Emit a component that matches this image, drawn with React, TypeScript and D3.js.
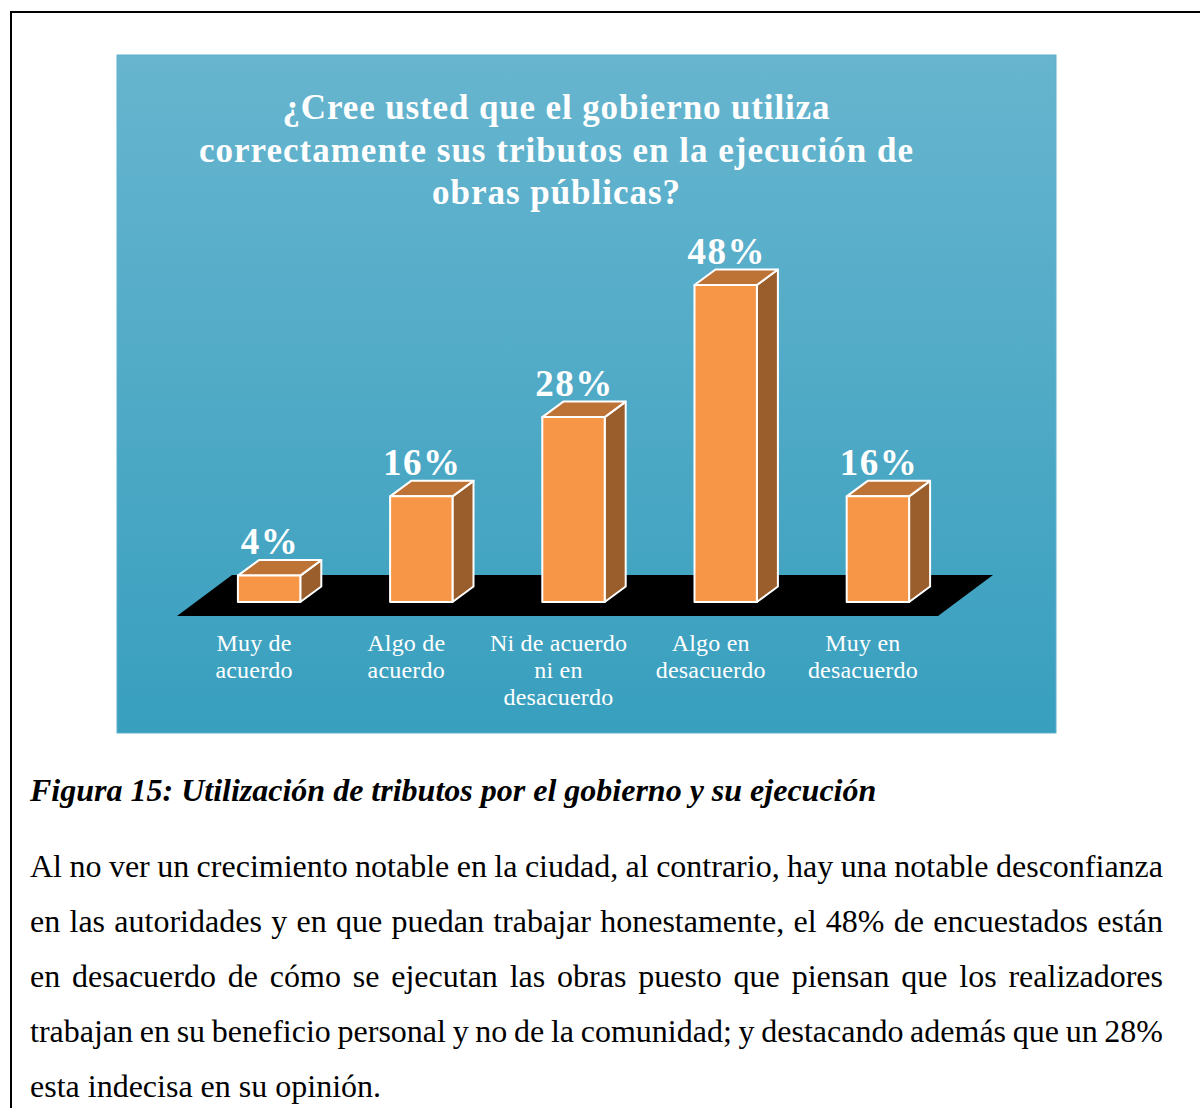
import React, { useMemo } from "react";
import * as d3 from "d3";

const categories = [
  "Muy de acuerdo",
  "Algo de acuerdo",
  "Ni de acuerdo ni en desacuerdo",
  "Algo en desacuerdo",
  "Muy en desacuerdo",
];
const categoryLines = [
  ["Muy de", "acuerdo"],
  ["Algo de", "acuerdo"],
  ["Ni de acuerdo", "ni en", "desacuerdo"],
  ["Algo en", "desacuerdo"],
  ["Muy en", "desacuerdo"],
];
const values = [4, 16, 28, 48, 16];
const valueLabels = ["4%", "16%", "28%", "48%", "16%"];
const titleLines = [
  "¿Cree usted que el gobierno utiliza",
  "correctamente sus tributos en la ejecución de",
  "obras públicas?",
];
const titleWidths = [547, 714, 248];
const caption = "Figura 15: Utilización de tributos por el gobierno y su ejecución";
const paragraphLines = [
  "Al no ver un crecimiento notable en la ciudad, al contrario, hay una notable desconfianza",
  "en las autoridades y en que puedan trabajar honestamente, el 48% de encuestados están",
  "en desacuerdo de cómo se ejecutan las obras puesto que piensan que los realizadores",
  "trabajan en su beneficio personal y no de la comunidad; y destacando además que un 28%",
  "esta indecisa en su opinión.",
];

const W = 1200;
const H = 1108;
const SERIF = "'Liberation Serif', 'Times New Roman', serif";
const PARA_SIZE = 32;
const PARA_X = 30;
const PARA_W = 1133;

export default function App() {
  const x = d3
    .scaleBand<string>()
    .domain(categories)
    .range([193, 954])
    .paddingInner(0.59)
    .paddingOuter(0.295);
  const y = d3.scaleLinear().domain([0, 48]).range([602, 285]);
  const bw = x.bandwidth();
  const dx = 21;
  const dy = -15.5;

  const wordSpacings = useMemo(() => {
    const c = document.createElement("canvas");
    const ctx = c.getContext("2d")!;
    ctx.font = `${PARA_SIZE}px 'Liberation Serif'`;
    return paragraphLines.map((l, i) => {
      if (i === paragraphLines.length - 1) return 0;
      const w = ctx.measureText(l).width;
      const spaces = (l.match(/ /g) || []).length;
      return (PARA_W - w) / spaces;
    });
  }, []);

  const [r0, r1] = x.range();
  const floorY0 = 575;
  const floorY1 = 616;
  const floor = [
    [r0 - 16, floorY1],
    [r0 - 16 + 55, floorY0],
    [r1 - 16 + 55, floorY0],
    [r1 - 16, floorY1],
  ];

  return (
    <svg
      width={W}
      height={H}
      style={{ position: "absolute", left: 0, top: 0, display: "block" }}
      fontFamily={SERIF}
    >
      <defs>
        <linearGradient id="bg" x1="0" y1="0" x2="0" y2="1">
          <stop offset="0" stopColor="#67b5cf" />
          <stop offset="1" stopColor="#389fbe" />
        </linearGradient>
      </defs>
      <rect width={W} height={H} fill="#ffffff" />
      <rect x={11} y={12} width={1200} height={1200} fill="none" stroke="#000" strokeWidth={2} />

      <rect x={117} y={55} width={939} height={678} fill="url(#bg)" stroke="#5fb0cc" strokeWidth={1} />

      {titleLines.map((t, i) => (
        <text
          key={t}
          x={556}
          y={119 + i * 42.5}
          textAnchor="middle"
          fill="#fff"
          fontWeight="bold"
          fontSize={35}
          textLength={titleWidths[i]}
          lengthAdjust="spacing"
        >
          {t}
        </text>
      ))}

      <polygon points={floor.map((p) => p.join(",")).join(" ")} fill="#000" />

      {categories.map((c, i) => {
        const x0 = x(c)!;
        const yt = y(values[i]);
        const yb = y(0);
        return (
          <g key={c} stroke="#fff" strokeWidth={2} strokeLinejoin="round">
            <polygon
              points={`${x0 + bw},${yb} ${x0 + bw + dx},${yb + dy} ${x0 + bw + dx},${yt + dy} ${x0 + bw},${yt}`}
              fill="#9a5e2c"
            />
            <polygon
              points={`${x0},${yt} ${x0 + dx},${yt + dy} ${x0 + bw + dx},${yt + dy} ${x0 + bw},${yt}`}
              fill="#bd7236"
            />
            <rect x={x0} y={yt} width={bw} height={yb - yt} fill="#f79646" />
          </g>
        );
      })}

      {categories.map((c, i) => (
        <text
          key={"v" + c}
          x={x(c)! + bw / 2 + 1}
          y={y(values[i]) + dy - 6}
          textAnchor="middle"
          fill="#fff"
          fontWeight="bold"
          fontSize={37}
          letterSpacing={1.5}
        >
          {valueLabels[i]}
        </text>
      ))}

      {categories.map((c, i) => (
        <text
          key={"c" + c}
          textAnchor="middle"
          fill="#fff"
          fontSize={24}
          letterSpacing={0.2}
        >
          {categoryLines[i].map((l, j) => (
            <tspan key={j} x={x(c)! + bw / 2 - 15} y={651 + j * 27}>
              {l}
            </tspan>
          ))}
        </text>
      ))}

      <text x={30} y={801} fontSize={32} fontWeight="bold" fontStyle="italic" fill="#000">
        {caption}
      </text>

      {paragraphLines.map((l, i) => (
        <text
          key={i}
          x={PARA_X}
          y={877 + i * 55}
          fontSize={PARA_SIZE}
          fill="#000"
          style={{ wordSpacing: `${wordSpacings[i]}px` }}
        >
          {l}
        </text>
      ))}
    </svg>
  );
}
